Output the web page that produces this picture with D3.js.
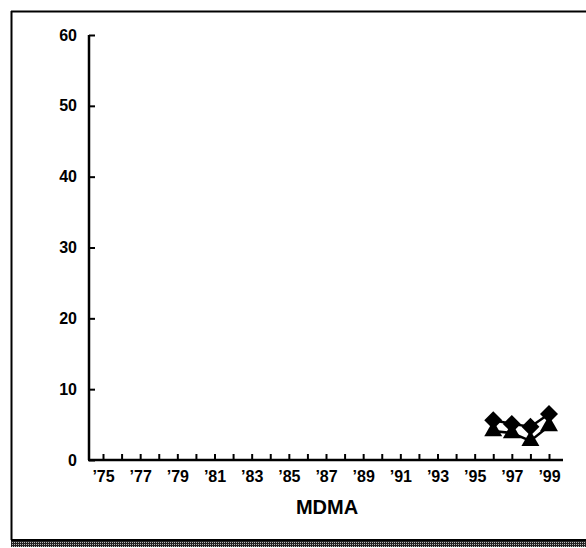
<!DOCTYPE html>
<html><head><meta charset="utf-8">
<script src="https://cdn.jsdelivr.net/npm/d3@7"></script>
<style>html,body{margin:0;padding:0;background:#fff;overflow:hidden}svg{display:block}</style>
</head><body>
<script>
const years = [1996, 1997, 1998, 1999];
const seriesDiamond = [5.6, 5.1, 4.7, 6.5];
const seriesTriangle = [4.1, 3.8, 2.7, 4.8];
const xTickYears = d3.range(1975, 2000);
const xLabelYears = d3.range(1975, 2000, 2);
const yTicks = [0, 10, 20, 30, 40, 50, 60];
const xTitle = "MDMA";

const W = 586, H = 548;
const svg = d3.select("body").append("svg").attr("width", W).attr("height", H);
svg.append("rect").attr("width", W).attr("height", H).attr("fill", "#fff");

// dithered pattern for bottom band
const pat = svg.append("defs").append("pattern").attr("id", "dith").attr("width", 2).attr("height", 2).attr("patternUnits", "userSpaceOnUse");
pat.append("rect").attr("width", 2).attr("height", 2).attr("fill", "#222");
pat.append("rect").attr("width", 1).attr("height", 1).attr("fill", "#bbb");

// frame: left and top lines, dithered bottom band
svg.append("line").attr("x1", 11.5).attr("x2", 11.5).attr("y1", 11).attr("y2", 540).attr("stroke", "#000").attr("stroke-width", 2);
svg.append("line").attr("x1", 11).attr("x2", 586).attr("y1", 11.5).attr("y2", 11.5).attr("stroke", "#000").attr("stroke-width", 2);
svg.append("rect").attr("x", 11).attr("y", 541).attr("width", 575).attr("height", 6).attr("fill", "url(#dith)");
svg.append("line").attr("x1", 11).attr("x2", 586).attr("y1", 540).attr("y2", 540).attr("stroke", "#000").attr("stroke-width", 2);

const x = d3.scaleLinear().domain([1975, 1999]).range([103, 549]);
const y = d3.scaleLinear().domain([0, 60]).range([460, 35]);
const font = "'Liberation Sans', Arial, sans-serif";

// y axis
const gy = svg.append("g").attr("transform", "translate(89,0)")
  .call(d3.axisLeft(y).tickValues(yTicks).tickSize(-6).tickPadding(12).tickFormat(d3.format("d")));
gy.select(".domain").attr("stroke-width", 2.5).attr("d", `M0,${y(60)}V${y(0)}`);
gy.selectAll(".tick line").attr("stroke-width", 2);
gy.selectAll("text").attr("font-family", font).attr("font-weight", "bold").attr("font-size", 16).attr("fill", "#000");

// x axis
const gx = svg.append("g").attr("transform", `translate(0,${y(0)})`)
  .call(d3.axisBottom(x).tickValues(xTickYears).tickSize(-6).tickPadding(11)
    .tickFormat(d => xLabelYears.includes(d) ? "\u2019" + String(d).slice(2) : ""));
gx.select(".domain").attr("stroke-width", 2.5).attr("d", "M88,0H563");
gx.selectAll(".tick line").attr("stroke-width", 2);
gx.selectAll("text").attr("font-family", font).attr("font-weight", "bold").attr("font-size", 16).attr("fill", "#000");

svg.append("text").attr("x", 327).attr("y", 514).attr("text-anchor", "middle")
  .attr("font-family", font).attr("font-weight", "bold").attr("font-size", 20).text(xTitle);

// series
const line = d3.line().x((d, i) => x(years[i])).y(d => y(d));
svg.append("path").datum(seriesDiamond).attr("d", line).attr("fill", "none").attr("stroke", "#000").attr("stroke-width", 2.5);
svg.append("path").datum(seriesTriangle).attr("d", line).attr("fill", "none").attr("stroke", "#000").attr("stroke-width", 2.5);

const wideDiamond = { draw(ctx, size) { const r = Math.sqrt(size / 2); ctx.moveTo(0, -r); ctx.lineTo(r, 0); ctx.lineTo(0, r); ctx.lineTo(-r, 0); ctx.closePath(); } };
const dia = d3.symbol().type(wideDiamond).size(162);
const tri = d3.symbol().type(d3.symbolTriangle).size(140);
svg.selectAll(".dia").data(seriesDiamond).join("path").attr("class", "dia")
  .attr("transform", (d, i) => `translate(${x(years[i])},${y(d)})`).attr("d", dia).attr("fill", "#000");
svg.selectAll(".tri").data(seriesTriangle).join("path").attr("class", "tri")
  .attr("transform", (d, i) => `translate(${x(years[i])},${y(d)})`).attr("d", tri).attr("fill", "#000");
</script>
</body></html>
